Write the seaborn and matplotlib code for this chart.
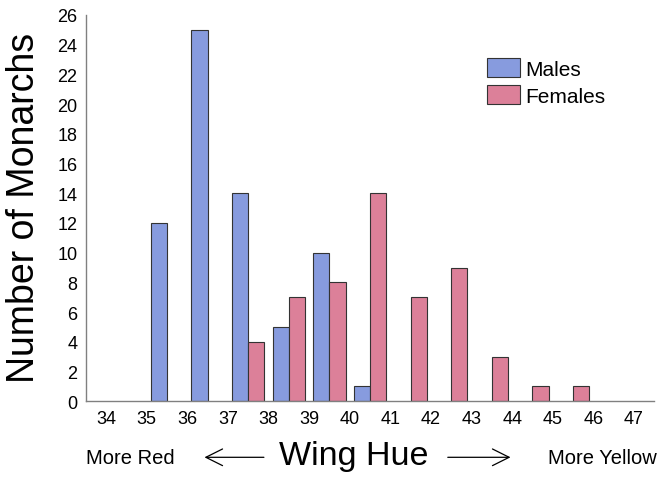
import numpy as np
import pandas as pd
import matplotlib
matplotlib.use('Agg')
import matplotlib.pyplot as plt
import seaborn as sns

# Wing hue bins (left edge of each bin) and counts per sex
male_bins = [35, 36, 37, 38, 39, 40]
male_counts = [12, 25, 14, 5, 10, 1]
female_bins = [37, 38, 39, 40, 41, 42, 43, 44, 45]
female_counts = [4, 7, 8, 14, 7, 9, 3, 1, 1]
hue_ticks = list(range(34, 48))
y_ticks = list(range(0, 27, 2))

# Build a long table, bars sit in the middle of each bin
df = pd.concat([
    pd.DataFrame({'hue': np.array(male_bins) + 0.5, 'count': male_counts, 'sex': 'Males'}),
    pd.DataFrame({'hue': np.array(female_bins) + 0.5, 'count': female_counts, 'sex': 'Females'}),
], ignore_index=True)

sns.set_style('white')
plt.rcParams['font.family'] = ['Liberation Sans', 'DejaVu Sans']
plt.rcParams['text.color'] = 'black'
plt.rcParams['xtick.color'] = '#808080'
plt.rcParams['ytick.color'] = '#808080'
plt.rcParams['xtick.labelcolor'] = 'black'
plt.rcParams['ytick.labelcolor'] = 'black'

fig = plt.figure(figsize=(6.67, 4.81), dpi=100)
ax = fig.add_axes([0.1285, 0.1636, 0.981 - 0.1285, 0.967 - 0.1636])

sns.barplot(data=df, x='hue', y='count', hue='sex', hue_order=['Males', 'Females'],
            native_scale=True, width=0.8, errorbar=None, saturation=1,
            palette={'Males': '#879BDE', 'Females': '#DC8099'},
            edgecolor='#333333', linewidth=0.8, ax=ax)

ax.set_xlim(33.5, 47.5)
ax.set_ylim(0, 26)
ax.set_xticks(hue_ticks)
ax.set_xticklabels([str(t) for t in hue_ticks], fontsize=13)
ax.set_yticks(y_ticks)
ax.set_yticklabels([str(t) for t in y_ticks], fontsize=13)
ax.tick_params(direction='in', length=4, width=0.8, color='#808080', pad=6)

for side in ['top', 'right']:
    ax.spines[side].set_visible(False)
for side in ['left', 'bottom']:
    ax.spines[side].set_color('#808080')
    ax.spines[side].set_linewidth(1)

ax.set_xlabel('')
ax.set_ylabel('')

# Axis titles
fig.text(24.5 / 667, 1 - 207.5 / 481, 'Number of Monarchs', rotation=90,
         ha='center', va='center', fontsize=27)
fig.text(354 / 667, 1 - 456 / 481, 'Wing Hue', ha='center', va='center', fontsize=24.5)
fig.text(130 / 667, 1 - 458 / 481, 'More Red', ha='center', va='center', fontsize=14.5)
fig.text(602.5 / 667, 1 - 458 / 481, 'More Yellow', ha='center', va='center', fontsize=14.5)

# Direction arrows
fig.add_artist(matplotlib.patches.FancyArrowPatch(
    (266.7 / 667, 1 - 458.3 / 481), (201.7 / 667, 1 - 458.3 / 481),
    transform=fig.transFigure, arrowstyle='->,head_length=0.6,head_width=0.3',
    mutation_scale=20, color='black', linewidth=0.9))
fig.add_artist(matplotlib.patches.FancyArrowPatch(
    (445 / 667, 1 - 458.3 / 481), (513.3 / 667, 1 - 458.3 / 481),
    transform=fig.transFigure, arrowstyle='->,head_length=0.6,head_width=0.3',
    mutation_scale=20, color='black', linewidth=0.9))

leg = ax.legend(loc='upper left', bbox_to_anchor=(487 / 667, 1 - 59 / 481),
                bbox_transform=fig.transFigure, frameon=False, fontsize=15,
                handlelength=1.6, handleheight=1.05, labelspacing=0.3,
                handletextpad=0.25, borderpad=0, borderaxespad=0)

fig.savefig('out.png', dpi=100, facecolor='white')
